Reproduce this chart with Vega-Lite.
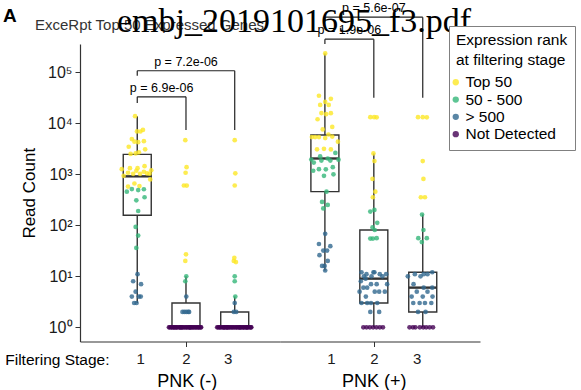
{
  "$schema": "https://vega.github.io/schema/vega-lite/v6.json",
  "autosize": "none",
  "padding": {"left": 80, "top": 44, "right": 501, "bottom": 346},
  "bounds": "flush",
  "spacing": 0,
  "config": {
    "font": "Liberation Sans",
    "view": {"stroke": null},
    "axis": {"grid": false, "domainColor": "#333333", "tickColor": "#333333", "labelColor": "#1a1a1a", "titleColor": "#000000", "titleFontWeight": "normal", "labelFont": "Liberation Sans", "titleFont": "Liberation Sans"}
  },
  "title": {"text": "A", "anchor": "start", "frame": "group", "dx": -77, "offset": -24, "fontSize": 19, "fontWeight": "bold", "font": "Liberation Sans", "color": "#000000"},
  "datasets": {
    "box": [
      {"g": "PNK (-)", "s": 1, "lower": 3, "q1": 158, "median": 912, "q3": 2455, "upper": 13804},
      {"g": "PNK (-)", "s": 2, "lower": 1, "q1": 1, "median": 1, "q3": 3, "upper": 10},
      {"g": "PNK (-)", "s": 3, "lower": 1, "q1": 1, "median": 1, "q3": 2, "upper": 4},
      {"g": "PNK (+)", "s": 1, "lower": 13, "q1": 457, "median": 2042, "q3": 5888, "upper": 234423},
      {"g": "PNK (+)", "s": 2, "lower": 1, "q1": 3, "median": 9, "q3": 81, "upper": 2570},
      {"g": "PNK (+)", "s": 3, "lower": 1, "q1": 2, "median": 6, "q3": 12, "upper": 162}
    ],
    "brk": [
      {"g": "PNK (-)", "x": 1, "x2": 2, "y": 33113, "y2": 33113},
      {"g": "PNK (-)", "x": 1, "x2": 1, "y": 25119, "y2": 33113},
      {"g": "PNK (-)", "x": 2, "x2": 2, "y": 7413, "y2": 33113},
      {"g": "PNK (-)", "x": 1, "x2": 3, "y": 107152, "y2": 107152},
      {"g": "PNK (-)", "x": 1, "x2": 1, "y": 85114, "y2": 107152},
      {"g": "PNK (-)", "x": 3, "x2": 3, "y": 7413, "y2": 107152},
      {"g": "PNK (+)", "x": 1, "x2": 2, "y": 446684, "y2": 446684},
      {"g": "PNK (+)", "x": 1, "x2": 1, "y": 358922, "y2": 446684},
      {"g": "PNK (+)", "x": 2, "x2": 2, "y": 31623, "y2": 446684},
      {"g": "PNK (+)", "x": 1, "x2": 3, "y": 1202264, "y2": 1202264},
      {"g": "PNK (+)", "x": 1, "x2": 1, "y": 977237, "y2": 1202264},
      {"g": "PNK (+)", "x": 3, "x2": 3, "y": 31623, "y2": 1202264}
    ],
    "lab": [
      {"g": "PNK (-)", "x": 1.5, "y": 33113, "t": "p = 6.9e-06"},
      {"g": "PNK (-)", "x": 2, "y": 107152, "t": "p = 7.2e-06"},
      {"g": "PNK (+)", "x": 1.5, "y": 446684, "t": "p = 1.9e-06"},
      {"g": "PNK (+)", "x": 2, "y": 1202264, "t": "p = 5.6e-07"}
    ],
    "pts": [
      {"g":"PNK (-)","s":1,"r":"Top 50","c":13804,"j":-0.045},
      {"g":"PNK (-)","s":1,"r":"Top 50","c":6918,"j":-0.006},
      {"g":"PNK (-)","s":1,"r":"Top 50","c":6900,"j":0.064},
      {"g":"PNK (-)","s":1,"r":"Top 50","c":7413,"j":0.117},
      {"g":"PNK (-)","s":1,"r":"Top 50","c":4898,"j":-0.111},
      {"g":"PNK (-)","s":1,"r":"Top 50","c":4365,"j":-0.058},
      {"g":"PNK (-)","s":1,"r":"Top 50","c":4266,"j":0.019},
      {"g":"PNK (-)","s":1,"r":"Top 50","c":4467,"j":0.136},
      {"g":"PNK (-)","s":1,"r":"Top 50","c":3467,"j":-0.175},
      {"g":"PNK (-)","s":1,"r":"Top 50","c":3090,"j":0.162},
      {"g":"PNK (-)","s":1,"r":"Top 50","c":2512,"j":-0.136},
      {"g":"PNK (-)","s":1,"r":"Top 50","c":2570,"j":-0.033},
      {"g":"PNK (-)","s":1,"r":"Top 50","c":2692,"j":0.033},
      {"g":"PNK (-)","s":1,"r":"Top 50","c":1259,"j":-0.318},
      {"g":"PNK (-)","s":1,"r":"Top 50","c":1318,"j":-0.15},
      {"g":"PNK (-)","s":1,"r":"Top 50","c":1320,"j":0.006},
      {"g":"PNK (-)","s":1,"r":"Top 50","c":1445,"j":0.15},
      {"g":"PNK (-)","s":1,"r":"Top 50","c":1175,"j":-0.019},
      {"g":"PNK (-)","s":1,"r":"Top 50","c":1122,"j":0.136},
      {"g":"PNK (-)","s":1,"r":"Top 50","c":1202,"j":0.287},
      {"g":"PNK (-)","s":1,"r":"Top 50","c":1072,"j":-0.189},
      {"g":"PNK (-)","s":1,"r":"Top 50","c":1023,"j":-0.084},
      {"g":"PNK (-)","s":1,"r":"Top 50","c":1047,"j":0.201},
      {"g":"PNK (-)","s":1,"r":"Top 50","c":1025,"j":0.253},
      {"g":"PNK (-)","s":1,"r":"Top 50","c":933,"j":-0.279},
      {"g":"PNK (-)","s":1,"r":"Top 50","c":794,"j":0.267},
      {"g":"PNK (-)","s":1,"r":"Top 50","c":661,"j":-0.058},
      {"g":"PNK (-)","s":1,"r":"Top 50","c":575,"j":-0.189},
      {"g":"PNK (-)","s":1,"r":"Top 50","c":589,"j":0.045},
      {"g":"PNK (-)","s":1,"r":"Top 50","c":1020,"j":0.058},
      {"g":"PNK (-)","s":1,"r":"50 - 500","c":457,"j":-0.214},
      {"g":"PNK (-)","s":1,"r":"50 - 500","c":513,"j":-0.111},
      {"g":"PNK (-)","s":1,"r":"50 - 500","c":490,"j":0.019},
      {"g":"PNK (-)","s":1,"r":"50 - 500","c":510,"j":0.136},
      {"g":"PNK (-)","s":1,"r":"50 - 500","c":355,"j":0.15},
      {"g":"PNK (-)","s":1,"r":"50 - 500","c":309,"j":-0.019},
      {"g":"PNK (-)","s":1,"r":"50 - 500","c":191,"j":0.019},
      {"g":"PNK (-)","s":1,"r":"50 - 500","c":93,"j":-0.033},
      {"g":"PNK (-)","s":1,"r":"50 - 500","c":63,"j":0.019},
      {"g":"PNK (-)","s":1,"r":"50 - 500","c":36,"j":-0.019},
      {"g":"PNK (-)","s":1,"r":"> 500","c":11,"j":0.006},
      {"g":"PNK (-)","s":1,"r":"> 500","c":8,"j":-0.084},
      {"g":"PNK (-)","s":1,"r":"> 500","c":7,"j":0.078},
      {"g":"PNK (-)","s":1,"r":"> 500","c":5,"j":-0.033},
      {"g":"PNK (-)","s":1,"r":"> 500","c":4,"j":-0.111},
      {"g":"PNK (-)","s":1,"r":"> 500","c":4,"j":0.033},
      {"g":"PNK (-)","s":1,"r":"> 500","c":4,"j":0.072},
      {"g":"PNK (-)","s":1,"r":"> 500","c":3,"j":-0.064},
      {"g":"PNK (-)","s":1,"r":"> 500","c":3,"j":-0.014},

      {"g":"PNK (-)","s":2,"r":"Top 50","c":4677,"j":-0.014},
      {"g":"PNK (-)","s":2,"r":"Top 50","c":1380,"j":0.012},
      {"g":"PNK (-)","s":2,"r":"Top 50","c":1072,"j":-0.008},
      {"g":"PNK (-)","s":2,"r":"Top 50","c":603,"j":-0.043},
      {"g":"PNK (-)","s":2,"r":"Top 50","c":600,"j":0.016},
      {"g":"PNK (-)","s":2,"r":"Top 50","c":27,"j":0},
      {"g":"PNK (-)","s":2,"r":"Top 50","c":20,"j":-0.014},
      {"g":"PNK (-)","s":2,"r":"50 - 500","c":10,"j":0.006},
      {"g":"PNK (-)","s":2,"r":"50 - 500","c":8,"j":-0.014},
      {"g":"PNK (-)","s":2,"r":"> 500","c":4,"j":0.006},
      {"g":"PNK (-)","s":2,"r":"> 500","c":2,"j":-0.072},
      {"g":"PNK (-)","s":2,"r":"> 500","c":2,"j":-0.033},
      {"g":"PNK (-)","s":2,"r":"> 500","c":2,"j":0.006},
      {"g":"PNK (-)","s":2,"r":"> 500","c":2,"j":0.045},
      {"g":"PNK (-)","s":2,"r":"> 500","c":2,"j":0.064},
      {"g":"PNK (-)","s":2,"r":"Not Detected","c":1,"j":-0.35},
      {"g":"PNK (-)","s":2,"r":"Not Detected","c":1,"j":-0.33},
      {"g":"PNK (-)","s":2,"r":"Not Detected","c":1,"j":-0.3},
      {"g":"PNK (-)","s":2,"r":"Not Detected","c":1,"j":-0.29},
      {"g":"PNK (-)","s":2,"r":"Not Detected","c":1,"j":-0.26},
      {"g":"PNK (-)","s":2,"r":"Not Detected","c":1,"j":-0.25},
      {"g":"PNK (-)","s":2,"r":"Not Detected","c":1,"j":-0.23},
      {"g":"PNK (-)","s":2,"r":"Not Detected","c":1,"j":-0.21},
      {"g":"PNK (-)","s":2,"r":"Not Detected","c":1,"j":-0.19},
      {"g":"PNK (-)","s":2,"r":"Not Detected","c":1,"j":-0.18},
      {"g":"PNK (-)","s":2,"r":"Not Detected","c":1,"j":-0.14},
      {"g":"PNK (-)","s":2,"r":"Not Detected","c":1,"j":-0.13},
      {"g":"PNK (-)","s":2,"r":"Not Detected","c":1,"j":-0.11},
      {"g":"PNK (-)","s":2,"r":"Not Detected","c":1,"j":-0.1},
      {"g":"PNK (-)","s":2,"r":"Not Detected","c":1,"j":-0.08},
      {"g":"PNK (-)","s":2,"r":"Not Detected","c":1,"j":-0.07},
      {"g":"PNK (-)","s":2,"r":"Not Detected","c":1,"j":-0.04},
      {"g":"PNK (-)","s":2,"r":"Not Detected","c":1,"j":-0.02},
      {"g":"PNK (-)","s":2,"r":"Not Detected","c":1,"j":0.01},
      {"g":"PNK (-)","s":2,"r":"Not Detected","c":1,"j":0.02},
      {"g":"PNK (-)","s":2,"r":"Not Detected","c":1,"j":0.05},
      {"g":"PNK (-)","s":2,"r":"Not Detected","c":1,"j":0.07},
      {"g":"PNK (-)","s":2,"r":"Not Detected","c":1,"j":0.08},
      {"g":"PNK (-)","s":2,"r":"Not Detected","c":1,"j":0.09},
      {"g":"PNK (-)","s":2,"r":"Not Detected","c":1,"j":0.11},
      {"g":"PNK (-)","s":2,"r":"Not Detected","c":1,"j":0.13},
      {"g":"PNK (-)","s":2,"r":"Not Detected","c":1,"j":0.15},
      {"g":"PNK (-)","s":2,"r":"Not Detected","c":1,"j":0.17},
      {"g":"PNK (-)","s":2,"r":"Not Detected","c":1,"j":0.2},
      {"g":"PNK (-)","s":2,"r":"Not Detected","c":1,"j":0.21},
      {"g":"PNK (-)","s":2,"r":"Not Detected","c":1,"j":0.24},
      {"g":"PNK (-)","s":2,"r":"Not Detected","c":1,"j":0.26},
      {"g":"PNK (-)","s":2,"r":"Not Detected","c":1,"j":0.27},
      {"g":"PNK (-)","s":2,"r":"Not Detected","c":1,"j":0.3},
      {"g":"PNK (-)","s":2,"r":"Not Detected","c":1,"j":0.31},

      {"g":"PNK (-)","s":3,"r":"Top 50","c":4677,"j":0},
      {"g":"PNK (-)","s":3,"r":"Top 50","c":1047,"j":0.012},
      {"g":"PNK (-)","s":3,"r":"Top 50","c":603,"j":0},
      {"g":"PNK (-)","s":3,"r":"Top 50","c":23,"j":-0.008},
      {"g":"PNK (-)","s":3,"r":"Top 50","c":20,"j":-0.019},
      {"g":"PNK (-)","s":3,"r":"Top 50","c":19,"j":0.025},
      {"g":"PNK (-)","s":3,"r":"50 - 500","c":10,"j":0},
      {"g":"PNK (-)","s":3,"r":"50 - 500","c":8,"j":0},
      {"g":"PNK (-)","s":3,"r":"50 - 500","c":4,"j":0.012},
      {"g":"PNK (-)","s":3,"r":"> 500","c":3,"j":0},
      {"g":"PNK (-)","s":3,"r":"> 500","c":2,"j":-0.019},
      {"g":"PNK (-)","s":3,"r":"> 500","c":2,"j":0.031},
      {"g":"PNK (-)","s":3,"r":"Not Detected","c":1,"j":-0.36},
      {"g":"PNK (-)","s":3,"r":"Not Detected","c":1,"j":-0.34},
      {"g":"PNK (-)","s":3,"r":"Not Detected","c":1,"j":-0.31},
      {"g":"PNK (-)","s":3,"r":"Not Detected","c":1,"j":-0.3},
      {"g":"PNK (-)","s":3,"r":"Not Detected","c":1,"j":-0.27},
      {"g":"PNK (-)","s":3,"r":"Not Detected","c":1,"j":-0.24},
      {"g":"PNK (-)","s":3,"r":"Not Detected","c":1,"j":-0.23},
      {"g":"PNK (-)","s":3,"r":"Not Detected","c":1,"j":-0.21},
      {"g":"PNK (-)","s":3,"r":"Not Detected","c":1,"j":-0.2},
      {"g":"PNK (-)","s":3,"r":"Not Detected","c":1,"j":-0.17},
      {"g":"PNK (-)","s":3,"r":"Not Detected","c":1,"j":-0.16},
      {"g":"PNK (-)","s":3,"r":"Not Detected","c":1,"j":-0.15},
      {"g":"PNK (-)","s":3,"r":"Not Detected","c":1,"j":-0.13},
      {"g":"PNK (-)","s":3,"r":"Not Detected","c":1,"j":-0.11},
      {"g":"PNK (-)","s":3,"r":"Not Detected","c":1,"j":-0.09},
      {"g":"PNK (-)","s":3,"r":"Not Detected","c":1,"j":-0.06},
      {"g":"PNK (-)","s":3,"r":"Not Detected","c":1,"j":-0.05},
      {"g":"PNK (-)","s":3,"r":"Not Detected","c":1,"j":-0.02},
      {"g":"PNK (-)","s":3,"r":"Not Detected","c":1,"j":0},
      {"g":"PNK (-)","s":3,"r":"Not Detected","c":1,"j":0.03},
      {"g":"PNK (-)","s":3,"r":"Not Detected","c":1,"j":0.04},
      {"g":"PNK (-)","s":3,"r":"Not Detected","c":1,"j":0.07},
      {"g":"PNK (-)","s":3,"r":"Not Detected","c":1,"j":0.09},
      {"g":"PNK (-)","s":3,"r":"Not Detected","c":1,"j":0.1},
      {"g":"PNK (-)","s":3,"r":"Not Detected","c":1,"j":0.12},
      {"g":"PNK (-)","s":3,"r":"Not Detected","c":1,"j":0.13},
      {"g":"PNK (-)","s":3,"r":"Not Detected","c":1,"j":0.16},
      {"g":"PNK (-)","s":3,"r":"Not Detected","c":1,"j":0.18},
      {"g":"PNK (-)","s":3,"r":"Not Detected","c":1,"j":0.19},
      {"g":"PNK (-)","s":3,"r":"Not Detected","c":1,"j":0.22},
      {"g":"PNK (-)","s":3,"r":"Not Detected","c":1,"j":0.24},
      {"g":"PNK (-)","s":3,"r":"Not Detected","c":1,"j":0.25},
      {"g":"PNK (-)","s":3,"r":"Not Detected","c":1,"j":0.26},
      {"g":"PNK (-)","s":3,"r":"Not Detected","c":1,"j":0.28},
      {"g":"PNK (-)","s":3,"r":"Not Detected","c":1,"j":0.31},
      {"g":"PNK (-)","s":3,"r":"Not Detected","c":1,"j":0.33},
      {"g":"PNK (-)","s":3,"r":"Not Detected","c":1,"j":0.34},

      {"g":"PNK (+)","s":1,"r":"Top 50","c":234423,"j":0.006},
      {"g":"PNK (+)","s":1,"r":"Top 50","c":34674,"j":-0.122},
      {"g":"PNK (+)","s":1,"r":"Top 50","c":26303,"j":0.006},
      {"g":"PNK (+)","s":1,"r":"Top 50","c":30200,"j":0.122},
      {"g":"PNK (+)","s":1,"r":"Top 50","c":22909,"j":-0.097},
      {"g":"PNK (+)","s":1,"r":"Top 50","c":22900,"j":0.078},
      {"g":"PNK (+)","s":1,"r":"Top 50","c":15849,"j":-0.072},
      {"g":"PNK (+)","s":1,"r":"Top 50","c":15136,"j":0.025},
      {"g":"PNK (+)","s":1,"r":"Top 50","c":15800,"j":0.122},
      {"g":"PNK (+)","s":1,"r":"Top 50","c":12023,"j":-0.15},
      {"g":"PNK (+)","s":1,"r":"Top 50","c":8511,"j":0.15},
      {"g":"PNK (+)","s":1,"r":"Top 50","c":7586,"j":-0.045},
      {"g":"PNK (+)","s":1,"r":"Top 50","c":5370,"j":-0.266},
      {"g":"PNK (+)","s":1,"r":"Top 50","c":5360,"j":-0.2},
      {"g":"PNK (+)","s":1,"r":"Top 50","c":5380,"j":-0.122},
      {"g":"PNK (+)","s":1,"r":"Top 50","c":5129,"j":0.006},
      {"g":"PNK (+)","s":1,"r":"Top 50","c":6026,"j":0.072},
      {"g":"PNK (+)","s":1,"r":"Top 50","c":5495,"j":0.15},
      {"g":"PNK (+)","s":1,"r":"Top 50","c":4365,"j":0.266},
      {"g":"PNK (+)","s":1,"r":"Top 50","c":3090,"j":-0.161},
      {"g":"PNK (+)","s":1,"r":"Top 50","c":3162,"j":-0.019},
      {"g":"PNK (+)","s":1,"r":"Top 50","c":3080,"j":0.122},
      {"g":"PNK (+)","s":1,"r":"50 - 500","c":2630,"j":0.214},
      {"g":"PNK (+)","s":1,"r":"50 - 500","c":1950,"j":-0.278},
      {"g":"PNK (+)","s":1,"r":"50 - 500","c":1698,"j":-0.227},
      {"g":"PNK (+)","s":1,"r":"50 - 500","c":2239,"j":-0.097},
      {"g":"PNK (+)","s":1,"r":"50 - 500","c":1862,"j":-0.072},
      {"g":"PNK (+)","s":1,"r":"50 - 500","c":2042,"j":0.058},
      {"g":"PNK (+)","s":1,"r":"50 - 500","c":1860,"j":0.111},
      {"g":"PNK (+)","s":1,"r":"50 - 500","c":1940,"j":0.278},
      {"g":"PNK (+)","s":1,"r":"50 - 500","c":1175,"j":-0.239},
      {"g":"PNK (+)","s":1,"r":"50 - 500","c":1259,"j":-0.122},
      {"g":"PNK (+)","s":1,"r":"50 - 500","c":1250,"j":0.019},
      {"g":"PNK (+)","s":1,"r":"50 - 500","c":1380,"j":0.161},
      {"g":"PNK (+)","s":1,"r":"50 - 500","c":933,"j":-0.019},
      {"g":"PNK (+)","s":1,"r":"50 - 500","c":1000,"j":0.175},
      {"g":"PNK (+)","s":1,"r":"50 - 500","c":457,"j":0.033},
      {"g":"PNK (+)","s":1,"r":"50 - 500","c":288,"j":-0.058},
      {"g":"PNK (+)","s":1,"r":"50 - 500","c":251,"j":0.058},
      {"g":"PNK (+)","s":1,"r":"50 - 500","c":214,"j":-0.033},
      {"g":"PNK (+)","s":1,"r":"> 500","c":68,"j":0.006},
      {"g":"PNK (+)","s":1,"r":"> 500","c":43,"j":-0.122},
      {"g":"PNK (+)","s":1,"r":"> 500","c":39,"j":0.111},
      {"g":"PNK (+)","s":1,"r":"> 500","c":32,"j":-0.033},
      {"g":"PNK (+)","s":1,"r":"> 500","c":32,"j":0.045},
      {"g":"PNK (+)","s":1,"r":"> 500","c":26,"j":-0.111},
      {"g":"PNK (+)","s":1,"r":"> 500","c":20,"j":0.058},
      {"g":"PNK (+)","s":1,"r":"> 500","c":16,"j":-0.058},
      {"g":"PNK (+)","s":1,"r":"> 500","c":16,"j":-0.006},
      {"g":"PNK (+)","s":1,"r":"> 500","c":13,"j":0.006},

      {"g":"PNK (+)","s":2,"r":"Top 50","c":13183,"j":-0.072},
      {"g":"PNK (+)","s":2,"r":"Top 50","c":13183,"j":0.006},
      {"g":"PNK (+)","s":2,"r":"Top 50","c":13100,"j":0.058},
      {"g":"PNK (+)","s":2,"r":"Top 50","c":2570,"j":-0.008},
      {"g":"PNK (+)","s":2,"r":"Top 50","c":1820,"j":0.012},
      {"g":"PNK (+)","s":2,"r":"Top 50","c":813,"j":-0.027},
      {"g":"PNK (+)","s":2,"r":"Top 50","c":457,"j":0.031},
      {"g":"PNK (+)","s":2,"r":"Top 50","c":355,"j":-0.019},
      {"g":"PNK (+)","s":2,"r":"50 - 500","c":186,"j":-0.072},
      {"g":"PNK (+)","s":2,"r":"50 - 500","c":200,"j":0.012},
      {"g":"PNK (+)","s":2,"r":"50 - 500","c":112,"j":0.07},
      {"g":"PNK (+)","s":2,"r":"50 - 500","c":91,"j":-0.027},
      {"g":"PNK (+)","s":2,"r":"50 - 500","c":81,"j":0.019},
      {"g":"PNK (+)","s":2,"r":"50 - 500","c":55,"j":-0.072},
      {"g":"PNK (+)","s":2,"r":"50 - 500","c":55,"j":-0.019},
      {"g":"PNK (+)","s":2,"r":"50 - 500","c":56,"j":0.058},
      {"g":"PNK (+)","s":2,"r":"> 500","c":12,"j":-0.252},
      {"g":"PNK (+)","s":2,"r":"> 500","c":11,"j":-0.15},
      {"g":"PNK (+)","s":2,"r":"> 500","c":12,"j":-0.008},
      {"g":"PNK (+)","s":2,"r":"> 500","c":12,"j":0.012},
      {"g":"PNK (+)","s":2,"r":"> 500","c":11,"j":0.122},
      {"g":"PNK (+)","s":2,"r":"> 500","c":11,"j":0.252},
      {"g":"PNK (+)","s":2,"r":"> 500","c":10,"j":-0.202},
      {"g":"PNK (+)","s":2,"r":"> 500","c":10,"j":-0.047},
      {"g":"PNK (+)","s":2,"r":"> 500","c":10,"j":0.175},
      {"g":"PNK (+)","s":2,"r":"> 500","c":8,"j":-0.266},
      {"g":"PNK (+)","s":2,"r":"> 500","c":9,"j":-0.169},
      {"g":"PNK (+)","s":2,"r":"> 500","c":7,"j":-0.058},
      {"g":"PNK (+)","s":2,"r":"> 500","c":7,"j":0.058},
      {"g":"PNK (+)","s":2,"r":"> 500","c":7,"j":0.272},
      {"g":"PNK (+)","s":2,"r":"> 500","c":6,"j":-0.214},
      {"g":"PNK (+)","s":2,"r":"> 500","c":6,"j":-0.136},
      {"g":"PNK (+)","s":2,"r":"> 500","c":5,"j":-0.291},
      {"g":"PNK (+)","s":2,"r":"> 500","c":5,"j":0.019},
      {"g":"PNK (+)","s":2,"r":"> 500","c":5,"j":0.109},
      {"g":"PNK (+)","s":2,"r":"> 500","c":5,"j":0.225},
      {"g":"PNK (+)","s":2,"r":"> 500","c":4,"j":-0.163},
      {"g":"PNK (+)","s":2,"r":"> 500","c":3,"j":-0.252},
      {"g":"PNK (+)","s":2,"r":"> 500","c":3,"j":-0.136},
      {"g":"PNK (+)","s":2,"r":"> 500","c":3,"j":0.07},
      {"g":"PNK (+)","s":2,"r":"> 500","c":3,"j":-0.058},
      {"g":"PNK (+)","s":2,"r":"> 500","c":2,"j":-0.072},
      {"g":"PNK (+)","s":2,"r":"> 500","c":2,"j":0.109},
      {"g":"PNK (+)","s":2,"r":"Not Detected","c":1,"j":-0.214},
      {"g":"PNK (+)","s":2,"r":"Not Detected","c":1,"j":-0.15},
      {"g":"PNK (+)","s":2,"r":"Not Detected","c":1,"j":-0.082},
      {"g":"PNK (+)","s":2,"r":"Not Detected","c":1,"j":-0.014},
      {"g":"PNK (+)","s":2,"r":"Not Detected","c":1,"j":0.054},
      {"g":"PNK (+)","s":2,"r":"Not Detected","c":1,"j":0.122},
      {"g":"PNK (+)","s":2,"r":"Not Detected","c":1,"j":0.186},

      {"g":"PNK (+)","s":3,"r":"Top 50","c":13183,"j":-0.097},
      {"g":"PNK (+)","s":3,"r":"Top 50","c":13183,"j":0},
      {"g":"PNK (+)","s":3,"r":"Top 50","c":13100,"j":0.083},
      {"g":"PNK (+)","s":3,"r":"Top 50","c":1820,"j":0},
      {"g":"PNK (+)","s":3,"r":"Top 50","c":813,"j":0.014},
      {"g":"PNK (+)","s":3,"r":"Top 50","c":355,"j":-0.039},
      {"g":"PNK (+)","s":3,"r":"Top 50","c":355,"j":0.045},
      {"g":"PNK (+)","s":3,"r":"50 - 500","c":162,"j":-0.014},
      {"g":"PNK (+)","s":3,"r":"50 - 500","c":81,"j":0.014},
      {"g":"PNK (+)","s":3,"r":"50 - 500","c":56,"j":-0.091},
      {"g":"PNK (+)","s":3,"r":"50 - 500","c":56,"j":0.083},
      {"g":"PNK (+)","s":3,"r":"50 - 500","c":47,"j":-0.019},
      {"g":"PNK (+)","s":3,"r":"> 500","c":10,"j":-0.305},
      {"g":"PNK (+)","s":3,"r":"> 500","c":11,"j":-0.161},
      {"g":"PNK (+)","s":3,"r":"> 500","c":10,"j":-0.045},
      {"g":"PNK (+)","s":3,"r":"> 500","c":11,"j":0.019},
      {"g":"PNK (+)","s":3,"r":"> 500","c":11,"j":0.097},
      {"g":"PNK (+)","s":3,"r":"> 500","c":12,"j":0.194},
      {"g":"PNK (+)","s":3,"r":"> 500","c":7,"j":-0.188},
      {"g":"PNK (+)","s":3,"r":"> 500","c":6,"j":0.019},
      {"g":"PNK (+)","s":3,"r":"> 500","c":6,"j":0.194},
      {"g":"PNK (+)","s":3,"r":"> 500","c":4,"j":-0.227},
      {"g":"PNK (+)","s":3,"r":"> 500","c":5,"j":-0.122},
      {"g":"PNK (+)","s":3,"r":"> 500","c":4,"j":0},
      {"g":"PNK (+)","s":3,"r":"> 500","c":5,"j":0.097},
      {"g":"PNK (+)","s":3,"r":"> 500","c":4,"j":0.2},
      {"g":"PNK (+)","s":3,"r":"> 500","c":3,"j":-0.194},
      {"g":"PNK (+)","s":3,"r":"> 500","c":3,"j":-0.064},
      {"g":"PNK (+)","s":3,"r":"> 500","c":3,"j":0.045},
      {"g":"PNK (+)","s":3,"r":"> 500","c":3,"j":0.175},
      {"g":"PNK (+)","s":3,"r":"> 500","c":2,"j":-0.097},
      {"g":"PNK (+)","s":3,"r":"> 500","c":2,"j":0.058},
      {"g":"PNK (+)","s":3,"r":"Not Detected","c":1,"j":-0.27},
      {"g":"PNK (+)","s":3,"r":"Not Detected","c":1,"j":-0.2},
      {"g":"PNK (+)","s":3,"r":"Not Detected","c":1,"j":-0.15},
      {"g":"PNK (+)","s":3,"r":"Not Detected","c":1,"j":-0.06},
      {"g":"PNK (+)","s":3,"r":"Not Detected","c":1,"j":0.01},
      {"g":"PNK (+)","s":3,"r":"Not Detected","c":1,"j":0.07},
      {"g":"PNK (+)","s":3,"r":"Not Detected","c":1,"j":0.14},
      {"g":"PNK (+)","s":3,"r":"Not Detected","c":1,"j":0.21}
    ]
  },
  "hconcat": [
    {
      "width": 200,
      "height": 297.5,
      "title": {"text": "ExceRpt Top 50 Expressed Genes", "anchor": "start", "frame": "group", "dx": -45, "offset": 11, "fontSize": 15, "fontWeight": "normal", "font": "Liberation Sans", "color": "#333333"},
      "layer": [
        {
          "data": {"name": "box"},
          "transform": [{"filter": "datum.g === 'PNK (-)'"}],
          "mark": {"type": "rule", "color": "#333333", "strokeWidth": 1.4},
          "encoding": {
            "x": {"field": "s", "type": "quantitative", "scale": {"domain": [-0.0721, 3.8265], "nice": false, "zero": false},
              "axis": {"orient": "bottom", "values": [1, 2, 3], "format": "d", "labelFontSize": 15, "labelPadding": 5, "tickSize": 5, "domainWidth": 1.2,
                "tickOpacity": {"condition": {"test": "datum.value === 2", "value": 1}, "value": 0},
                "labelOffset": {"condition": [{"test": "datum.value === 1", "value": 3}, {"test": "datum.value === 3", "value": -7}], "value": 0},
                "title": "PNK (-)", "titleFontSize": 18, "titleX": 106.7, "titleY": 40, "titleAlign": "center", "titleBaseline": "middle"}},
            "y": {"field": "lower", "type": "quantitative", "scale": {"type": "log", "domain": [0.527, 358900], "nice": false},
              "axis": {"values": [1, 10, 100, 1000, 10000, 100000], "labelExpr": "'10' + ['⁰','¹','²','³','⁴','⁵'][round(log(datum.value)/LN10)]", "labelFontSize": 16, "tickSize": 5, "labelPadding": 3, "domainWidth": 1.2, "title": "Read Count", "titleFontSize": 17, "titlePadding": 9}},
            "y2": {"field": "upper"}
          }
        },
        {
          "data": {"name": "box"},
          "transform": [{"filter": "datum.g === 'PNK (-)'"}],
          "mark": {"type": "bar", "width": 28, "fill": "white", "stroke": "#333333", "strokeWidth": 1.4},
          "encoding": {
            "x": {"field": "s", "type": "quantitative", "scale": {"domain": [-0.0721, 3.8265], "nice": false, "zero": false}, "axis": null},
            "y": {"field": "q1", "type": "quantitative", "scale": {"type": "log", "domain": [0.527, 358900], "nice": false}, "title": "Read Count"},
            "y2": {"field": "q3"}
          }
        },
        {
          "data": {"name": "box"},
          "transform": [{"filter": "datum.g === 'PNK (-)'"}],
          "mark": {"type": "tick", "orient": "horizontal", "size": 28, "thickness": 2.4, "color": "#333333", "opacity": 1},
          "encoding": {
            "x": {"field": "s", "type": "quantitative", "scale": {"domain": [-0.0721, 3.8265], "nice": false, "zero": false}, "axis": null},
            "y": {"field": "median", "type": "quantitative", "scale": {"type": "log", "domain": [0.527, 358900], "nice": false}, "title": "Read Count"}
          }
        },
        {
          "data": {"name": "pts"},
          "transform": [{"filter": "datum.g === 'PNK (-)'"}, {"calculate": "datum.s + datum.j", "as": "xp"}],
          "mark": {"type": "circle", "size": 22, "opacity": 0.8},
          "encoding": {
            "x": {"field": "xp", "type": "quantitative", "scale": {"domain": [-0.0721, 3.8265], "nice": false, "zero": false},
              "axis": {"orient": "bottom", "labels": false, "ticks": false, "domain": false, "title": "Filtering Stage:", "titleFontSize": 15.5, "titleX": 29, "titleY": 18, "titleAlign": "right", "titleBaseline": "middle"}},
            "y": {"field": "c", "type": "quantitative", "scale": {"type": "log", "domain": [0.527, 358900], "nice": false}, "title": "Read Count"},
            "color": {"field": "r", "type": "nominal",
              "scale": {"domain": ["Top 50", "50 - 500", "> 500", "Not Detected"], "range": ["#FDE725", "#35B779", "#31688E", "#440154"]},
              "legend": {"orient": "none", "legendX": 369, "legendY": -18, "title": ["Expression rank", "at filtering stage"], "titleFontSize": 15.5, "titleFontWeight": "normal", "titleColor": "#000000", "titleLineHeight": 20, "titlePadding": 6, "labelFontSize": 15.5, "labelColor": "#000000", "symbolType": "circle", "symbolSize": 40, "symbolOpacity": 0.8, "symbolStrokeWidth": 0, "strokeColor": "#808080", "fillColor": "white", "padding": 7, "rowPadding": 0.3, "symbolOffset": -8, "labelOffset": 2}}
          }
        },
        {
          "data": {"name": "brk"},
          "transform": [{"filter": "datum.g === 'PNK (-)'"}],
          "mark": {"type": "rule", "color": "#222222", "strokeWidth": 1.2, "clip": false},
          "encoding": {
            "x": {"field": "x", "type": "quantitative", "scale": {"domain": [-0.0721, 3.8265], "nice": false, "zero": false}, "axis": null},
            "x2": {"field": "x2"},
            "y": {"field": "y", "type": "quantitative", "scale": {"type": "log", "domain": [0.527, 358900], "nice": false}, "title": "Read Count"},
            "y2": {"field": "y2"}
          }
        },
        {
          "data": {"name": "lab"},
          "transform": [{"filter": "datum.g === 'PNK (-)'"}],
          "mark": {"type": "text", "fontSize": 12.5, "baseline": "bottom", "dy": -2, "color": "#000000", "clip": false},
          "encoding": {
            "x": {"field": "x", "type": "quantitative", "scale": {"domain": [-0.0721, 3.8265], "nice": false, "zero": false}, "axis": null},
            "y": {"field": "y", "type": "quantitative", "scale": {"type": "log", "domain": [0.527, 358900], "nice": false}, "title": "Read Count"},
            "text": {"field": "t"}
          }
        }
      ],
      "resolve": {"axis": {"x": "independent"}}
    },
    {
      "width": 200,
      "height": 297.5,
      "title": {"text": "embj_2019101695_f3.pdf", "anchor": "start", "frame": "group", "dx": -163, "offset": -37, "fontSize": 34, "fontWeight": "normal", "font": "Liberation Serif", "color": "#000000"},
      "layer": [
        {
          "data": {"name": "box"},
          "transform": [{"filter": "datum.g === 'PNK (+)'"}],
          "mark": {"type": "rule", "color": "#333333", "strokeWidth": 1.4},
          "encoding": {
            "x": {"field": "s", "type": "quantitative", "scale": {"domain": [0.1845, 4.068], "nice": false, "zero": false},
              "axis": {"orient": "bottom", "values": [1, 2, 3], "format": "d", "labelFontSize": 15, "labelPadding": 5, "tickSize": 5, "domainWidth": 1.2,
                "tickOpacity": {"condition": {"test": "datum.value === 2", "value": 1}, "value": 0},
                "labelOffset": {"condition": [{"test": "datum.value === 1", "value": 6}, {"test": "datum.value === 3", "value": -6}], "value": 0},
                "title": "PNK (+)", "titleFontSize": 18, "titleX": 93.7, "titleY": 40, "titleAlign": "center", "titleBaseline": "middle"}},
            "y": {"field": "lower", "type": "quantitative", "scale": {"type": "log", "domain": [0.527, 358900], "nice": false}, "axis": null},
            "y2": {"field": "upper"}
          }
        },
        {
          "data": {"name": "box"},
          "transform": [{"filter": "datum.g === 'PNK (+)'"}],
          "mark": {"type": "bar", "width": 28, "fill": "white", "stroke": "#333333", "strokeWidth": 1.4},
          "encoding": {
            "x": {"field": "s", "type": "quantitative", "scale": {"domain": [0.1845, 4.068], "nice": false, "zero": false}, "title": "PNK (+)"},
            "y": {"field": "q1", "type": "quantitative", "scale": {"type": "log", "domain": [0.527, 358900], "nice": false}, "axis": null},
            "y2": {"field": "q3"}
          }
        },
        {
          "data": {"name": "box"},
          "transform": [{"filter": "datum.g === 'PNK (+)'"}],
          "mark": {"type": "tick", "orient": "horizontal", "size": 28, "thickness": 2.4, "color": "#333333", "opacity": 1},
          "encoding": {
            "x": {"field": "s", "type": "quantitative", "scale": {"domain": [0.1845, 4.068], "nice": false, "zero": false}, "title": "PNK (+)"},
            "y": {"field": "median", "type": "quantitative", "scale": {"type": "log", "domain": [0.527, 358900], "nice": false}, "axis": null}
          }
        },
        {
          "data": {"name": "pts"},
          "transform": [{"filter": "datum.g === 'PNK (+)'"}, {"calculate": "datum.s + datum.j", "as": "xp"}],
          "mark": {"type": "circle", "size": 22, "opacity": 0.8},
          "encoding": {
            "x": {"field": "xp", "type": "quantitative", "scale": {"domain": [0.1845, 4.068], "nice": false, "zero": false}, "title": "PNK (+)"},
            "y": {"field": "c", "type": "quantitative", "scale": {"type": "log", "domain": [0.527, 358900], "nice": false}, "axis": null},
            "color": {"field": "r", "type": "nominal",
              "scale": {"domain": ["Top 50", "50 - 500", "> 500", "Not Detected"], "range": ["#FDE725", "#35B779", "#31688E", "#440154"]}}
          }
        },
        {
          "data": {"name": "brk"},
          "transform": [{"filter": "datum.g === 'PNK (+)'"}],
          "mark": {"type": "rule", "color": "#222222", "strokeWidth": 1.2, "clip": false},
          "encoding": {
            "x": {"field": "x", "type": "quantitative", "scale": {"domain": [0.1845, 4.068], "nice": false, "zero": false}, "title": "PNK (+)"},
            "x2": {"field": "x2"},
            "y": {"field": "y", "type": "quantitative", "scale": {"type": "log", "domain": [0.527, 358900], "nice": false}, "axis": null},
            "y2": {"field": "y2"}
          }
        },
        {
          "data": {"name": "lab"},
          "transform": [{"filter": "datum.g === 'PNK (+)'"}],
          "mark": {"type": "text", "fontSize": 12.5, "baseline": "bottom", "dy": -2, "color": "#000000", "clip": false},
          "encoding": {
            "x": {"field": "x", "type": "quantitative", "scale": {"domain": [0.1845, 4.068], "nice": false, "zero": false}, "title": "PNK (+)"},
            "y": {"field": "y", "type": "quantitative", "scale": {"type": "log", "domain": [0.527, 358900], "nice": false}, "axis": null},
            "text": {"field": "t"}
          }
        }
      ]
    }
  ],
  "resolve": {"scale": {"color": "shared"}}
}
